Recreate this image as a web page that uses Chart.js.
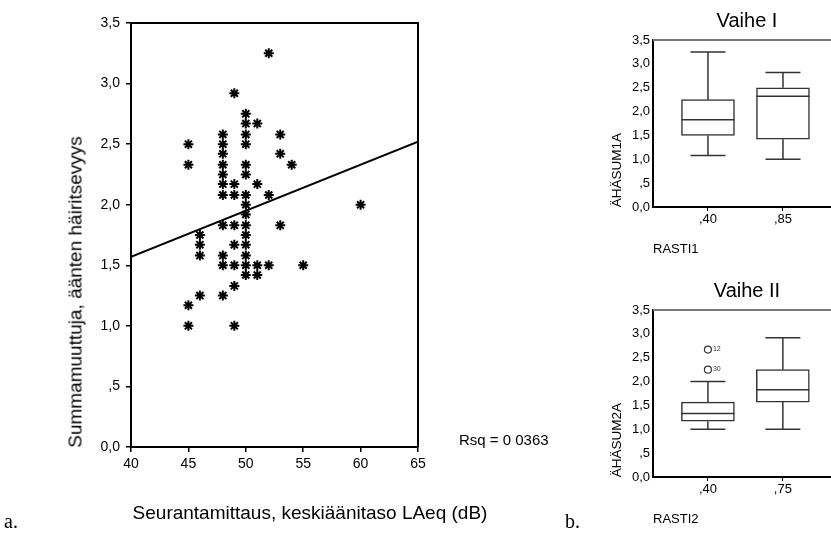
<!DOCTYPE html>
<html>
<head>
<meta charset="utf-8">
<script src="https://cdn.jsdelivr.net/npm/chart.js@4.4.0/dist/chart.umd.min.js"></script>
<style>
body { margin: 0; width: 831px; height: 537px; overflow: hidden; background: #fff; position: relative; font-family: 'Liberation Sans', Arial, sans-serif; color: #000; }
canvas { position: absolute; }
.t { position: absolute; line-height: 1; white-space: nowrap; }
.c { transform: translate(-50%, -50%); }
.l { transform: translateY(-50%); }
.r { transform: translate(-50%, -50%) rotate(-90deg); }
.s { font-family: 'Liberation Serif', 'Times New Roman', serif; font-size: 20px; }
</style>
</head>
<body>
<canvas id="hajonta" width="831" height="537" style="left:0;top:0"></canvas>
<canvas id="vaihe1" width="260" height="260" style="left:590px;top:0"></canvas>
<canvas id="vaihe2" width="260" height="260" style="left:590px;top:270px"></canvas>

<div class="t r" style="left:75px;top:292px;font-size:19px">Summamuuttuja, äänten häiritsevyys</div>
<div class="t c" style="left:310px;top:512px;font-size:19px">Seurantamittaus, keskiäänitaso LAeq (dB)</div>
<div class="t l" style="left:459px;top:439px;font-size:15px">Rsq = 0 0363</div>
<div class="t l s" style="left:4px;top:521px">a.</div>
<div class="t l s" style="left:565px;top:521px">b.</div>

<div class="t c" style="left:747px;top:20px;font-size:20px">Vaihe I</div>
<div class="t r" style="left:617px;top:170px;font-size:13.5px">ÄHÄSUM1A</div>
<div class="t l" style="left:653px;top:248px;font-size:13px">RASTI1</div>
<div class="t c" style="left:747px;top:290px;font-size:20px">Vaihe II</div>
<div class="t r" style="left:617px;top:440px;font-size:13.5px">ÄHÄSUM2A</div>
<div class="t l" style="left:653px;top:518px;font-size:13px">RASTI2</div>

<script>
const fontti = "'Liberation Sans', Arial, sans-serif";

// hajontakuvio: LAeq (dB) vs. summamuuttuja
const hajontaX = [
    45, 45, 45, 45,
    46, 46, 46, 46,
    48, 48, 48, 48, 48, 48, 48, 48, 48, 48, 48,
    49, 49, 49, 49, 49, 49, 49, 49,
    50, 50, 50, 50, 50, 50, 50, 50, 50, 50, 50, 50, 50, 50, 50,
    51, 51, 51, 51,
    52, 52, 52,
    53, 53, 53,
    54, 55, 60
];
const hajontaY = [
    2.5, 2.33, 1.17, 1.0,
    1.75, 1.67, 1.58, 1.25,
    2.58, 2.5, 2.42, 2.33, 2.25, 2.17, 2.08, 1.83, 1.58, 1.5, 1.25,
    2.92, 2.17, 2.08, 1.83, 1.67, 1.5, 1.33, 1.0,
    2.75, 2.67, 2.58, 2.5, 2.33, 2.25, 2.08, 2.0, 1.92, 1.83, 1.75, 1.67, 1.58, 1.5, 1.42,
    2.67, 2.17, 1.5, 1.42,
    3.25, 2.08, 1.5,
    2.58, 2.42, 1.83,
    2.33, 1.5, 2.0
];
// regressiosuoran päätepisteet
const suoraX = [40, 65];
const suoraY = [1.57, 2.52];

const xTiket = [40, 45, 50, 55, 60, 65];
const yTiket = [0, 0.5, 1, 1.5, 2, 2.5, 3, 3.5];
const yTikettiTekstit = ['0,0', ',5', '1,0', '1,5', '2,0', '2,5', '3,0', '3,5'];

// laatikkokuviot
const rasti1 = [',40', ',85'];
const v1Min = [1.08, 1.0];
const v1Q1 = [1.5, 1.42];
const v1Med = [1.83, 2.32];
const v1Q3 = [2.25, 2.5];
const v1Max = [3.25, 2.82];

const rasti2 = [',40', ',75'];
const v2Min = [1.0, 1.0];
const v2Q1 = [1.17, 1.57];
const v2Med = [1.33, 1.83];
const v2Q3 = [1.57, 2.25];
const v2Max = [2.0, 2.92];
const v2PoikkX = [0, 0];
const v2PoikkY = [2.67, 2.25];
const v2PoikkNimet = ['12', '30'];

const kehys = (vari, oikea) => ({
    id: 'kehys',
    afterDatasetsDraw(chart) {
        const { ctx, chartArea: a } = chart;
        ctx.save();
        ctx.strokeStyle = vari;
        ctx.lineWidth = 2;
        ctx.beginPath();
        ctx.moveTo(a.left, a.top);
        ctx.lineTo(a.right, a.top);
        if (oikea) ctx.lineTo(a.right, a.bottom);
        ctx.stroke();
        ctx.restore();
    }
});

new Chart(document.getElementById('hajonta'), {
    type: 'scatter',
    data: {
        datasets: [{
            data: hajontaX.map((x, i) => ({ x, y: hajontaY[i] })),
            pointStyle: 'star',
            pointRadius: 5,
            pointBorderWidth: 2,
            borderColor: '#000',
            backgroundColor: '#000'
        }, {
            data: suoraX.map((x, i) => ({ x, y: suoraY[i] })),
            showLine: true,
            pointRadius: 0,
            borderColor: '#000',
            borderWidth: 2
        }]
    },
    options: {
        responsive: false,
        animation: false,
        layout: { padding: { top: 23, right: 413, bottom: 0, left: 0 } },
        plugins: { legend: { display: false }, tooltip: { enabled: false } },
        scales: {
            x: {
                type: 'linear', min: 40, max: 65,
                afterBuildTicks: s => { s.ticks = xTiket.map(v => ({ value: v })); },
                afterFit: s => { s.height = 90; },
                ticks: { color: '#000', font: { size: 14, family: fontti }, padding: 4, maxRotation: 0 },
                grid: { drawOnChartArea: false, color: '#000', tickLength: 5, lineWidth: 1.5 },
                border: { color: '#000', width: 2 }
            },
            y: {
                min: 0, max: 3.5,
                afterBuildTicks: s => { s.ticks = yTiket.map(v => ({ value: v })); },
                afterFit: s => { s.width = 131; },
                ticks: { color: '#000', font: { size: 14, family: fontti }, padding: 6, callback: (v, i) => yTikettiTekstit[i] },
                grid: { drawOnChartArea: false, color: '#000', tickLength: 5, lineWidth: 1.5 },
                border: { color: '#000', width: 2 }
            }
        }
    },
    plugins: [kehys('#000', true)]
});

const teeLaatikot = (id, nimet, min, q1, med, q3, max, poikkX, poikkY, poikkNimet) => {
    const viikset = {
        id: 'viikset',
        afterDatasetsDraw(chart) {
            const { ctx, scales: { x, y } } = chart;
            const viiva = (x1, y1, x2, y2) => { ctx.beginPath(); ctx.moveTo(x1, y1); ctx.lineTo(x2, y2); ctx.stroke(); };
            ctx.save();
            ctx.strokeStyle = '#333';
            ctx.lineWidth = 1.5;
            nimet.forEach((_, i) => {
                const cx = x.getPixelForValue(i);
                const yMax = y.getPixelForValue(max[i]);
                const yMin = y.getPixelForValue(min[i]);
                const yMed = y.getPixelForValue(med[i]);
                viiva(cx, y.getPixelForValue(q3[i]), cx, yMax);
                viiva(cx, y.getPixelForValue(q1[i]), cx, yMin);
                viiva(cx - 17.5, yMax, cx + 17.5, yMax);
                viiva(cx - 17.5, yMin, cx + 17.5, yMin);
                viiva(cx - 26.5, yMed, cx + 26.5, yMed);
            });
            ctx.fillStyle = '#333';
            ctx.font = '7px ' + fontti;
            ctx.textBaseline = 'middle';
            poikkX.forEach((px, i) => {
                ctx.fillText(poikkNimet[i], x.getPixelForValue(px) + 5, y.getPixelForValue(poikkY[i]) - 1);
            });
            ctx.restore();
        }
    };

    return new Chart(document.getElementById(id), {
        type: 'bar',
        data: {
            datasets: [{
                data: nimet.map((_, i) => ({ x: i, y: [q1[i], q3[i]] })),
                backgroundColor: '#fff',
                borderColor: '#333',
                borderWidth: 1.5,
                borderSkipped: false,
                barThickness: 53
            }, {
                type: 'scatter',
                data: poikkX.map((x, i) => ({ x, y: poikkY[i] })),
                pointStyle: 'circle',
                pointRadius: 3.5,
                pointBorderWidth: 1.2,
                borderColor: '#333',
                backgroundColor: '#fff'
            }]
        },
        options: {
            responsive: false,
            animation: false,
            layout: { padding: { top: 40, right: 5, bottom: 0, left: 0 } },
            plugins: { legend: { display: false }, tooltip: { enabled: false } },
            scales: {
                x: {
                    type: 'linear', min: -0.733, max: 1.827, offset: false,
                    afterBuildTicks: s => { s.ticks = nimet.map((_, i) => ({ value: i })); },
                    afterFit: s => { s.height = 53; },
                    ticks: { color: '#000', font: { size: 13, family: fontti }, padding: 1, maxRotation: 0, callback: (v, i) => nimet[i] },
                    grid: { drawOnChartArea: false, offset: false, color: '#000', tickLength: 4, lineWidth: 1 },
                    border: { color: '#000', width: 2 }
                },
                y: {
                    min: 0, max: 3.5,
                    afterBuildTicks: s => { s.ticks = yTiket.map(v => ({ value: v })); },
                    afterFit: s => { s.width = 63; },
                    ticks: { color: '#000', font: { size: 13, family: fontti }, padding: 3, callback: (v, i) => yTikettiTekstit[i] },
                    grid: { drawOnChartArea: false, drawTicks: false, tickLength: 0 },
                    border: { color: '#000', width: 2 }
                }
            }
        },
        plugins: [viikset, kehys('#777', false)]
    });
};

teeLaatikot('vaihe1', rasti1, v1Min, v1Q1, v1Med, v1Q3, v1Max, [], [], []);
teeLaatikot('vaihe2', rasti2, v2Min, v2Q1, v2Med, v2Q3, v2Max, v2PoikkX, v2PoikkY, v2PoikkNimet);
</script>
</body>
</html>
